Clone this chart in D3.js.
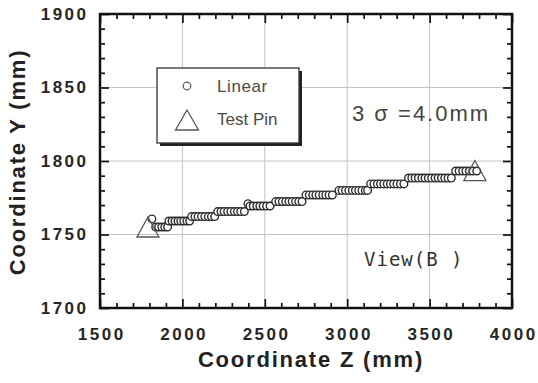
<!DOCTYPE html>
<html>
<head>
<meta charset="utf-8">
<script src="https://cdn.jsdelivr.net/npm/d3@7"></script>
<style>
  body { margin: 0; background: #fff; }
  text { font-family: Arial, "Liberation Sans", Helvetica, sans-serif; }
</style>
</head>
<body>
<svg id="chart" width="538" height="383"></svg>
<script>
// Coordinate Z vs Y, view (B): linear fit points and the two test pins

// linear points, grouped by the flat "steps" seen in the plot
var stepY = [1760.6, 1755.1, 1759.2, 1762.2, 1765.6, 1771.0, 1769.4, 1772.4, 1776.9, 1780.0, 1784.4, 1788.4, 1793.2];
var stepZ = [
    [1815],
    [1838, 1856, 1875, 1893, 1910],
    [1918, 1937, 1955, 1973, 1990, 2008, 2027, 2044],
    [2056, 2076, 2095, 2116, 2136, 2157, 2176, 2196],
    [2214, 2234, 2253, 2274, 2294, 2315, 2334, 2354, 2376],
    [2398],
    [2410, 2430, 2451, 2470, 2490, 2511, 2532],
    [2566, 2586, 2606, 2627, 2646, 2666, 2687, 2706, 2726],
    [2750, 2770, 2791, 2810, 2830, 2851, 2870, 2890, 2910],
    [2950, 2969, 2990, 3010, 3031, 3050, 3070, 3090, 3110, 3124],
    [3142, 3162, 3183, 3202, 3222, 3243, 3262, 3282, 3302, 3323, 3344],
    [3372, 3392, 3412, 3432, 3453, 3472, 3492, 3512, 3533, 3552, 3572, 3592, 3612, 3632],
    [3658, 3679, 3700, 3720, 3741, 3762, 3786]
];

// test pins
var pinZ = [1791, 3775];
var pinY = [1755.1, 1793.5];

var xMajor = [1500, 2000, 2500, 3000, 3500, 4000];
var xMinor = [1600, 1700, 1800, 1900, 2100, 2200, 2300, 2400, 2600, 2700, 2800, 2900,
              3100, 3200, 3300, 3400, 3600, 3700, 3800, 3900];
var yMajor = [1700, 1750, 1800, 1850, 1900];
var yMinor = [1710, 1720, 1730, 1740, 1760, 1770, 1780, 1790, 1810, 1820, 1830, 1840,
              1860, 1870, 1880, 1890];

var margin = {top: 14, right: 26, bottom: 75, left: 100},
    width = 538 - margin.left - margin.right,
    height = 383 - margin.top - margin.bottom;

var svg = d3.select("#chart");
svg.append("rect").attr("width", 538).attr("height", 383).attr("fill", "#fff");

var g = svg.append("g")
    .attr("transform", "translate(" + margin.left + "," + margin.top + ")");

var x = d3.scaleLinear().domain([1500, 4000]).range([0, width]);
var y = d3.scaleLinear().domain([1700, 1900]).range([height, 0]);

// grid
g.selectAll(".gx")
    .data(xMajor.slice(1, -1))
    .enter().append("line")
    .attr("x1", function(d) { return x(d); })
    .attr("x2", function(d) { return x(d); })
    .attr("y1", 0).attr("y2", height)
    .attr("stroke", "#c4c4c4").attr("stroke-width", 1);

g.selectAll(".gy")
    .data(yMajor.slice(1, -1))
    .enter().append("line")
    .attr("y1", function(d) { return y(d); })
    .attr("y2", function(d) { return y(d); })
    .attr("x1", 0).attr("x2", width)
    .attr("stroke", "#c4c4c4").attr("stroke-width", 1);

// ticks, all pointing inward
function tickAxis(axis, tr) {
    var a = g.append("g").attr("transform", tr).call(axis);
    a.select(".domain").remove();
    a.selectAll(".tick line").attr("stroke", "#111").attr("stroke-width", 1.7);
    return a;
}

tickAxis(d3.axisBottom(x).tickValues(xMinor).tickSize(-5).tickFormat(""), "translate(0," + height + ")");
tickAxis(d3.axisTop(x).tickValues(xMinor).tickSize(-5).tickFormat(""), "translate(0,0)");
tickAxis(d3.axisTop(x).tickValues(xMajor).tickSize(-9).tickFormat(""), "translate(0,0)");
tickAxis(d3.axisLeft(y).tickValues(yMinor).tickSize(-5).tickFormat(""), "translate(0,0)");
tickAxis(d3.axisRight(y).tickValues(yMinor).tickSize(-5).tickFormat(""), "translate(" + width + ",0)");
tickAxis(d3.axisRight(y).tickValues(yMajor).tickSize(-9).tickFormat(""), "translate(" + width + ",0)");

var xAxis = tickAxis(d3.axisBottom(x).tickValues(xMajor).tickSize(-9).tickPadding(20).tickFormat(d3.format("d")),
    "translate(0," + height + ")");
var yAxis = tickAxis(d3.axisLeft(y).tickValues(yMajor).tickSize(-9).tickPadding(11.5).tickFormat(d3.format("d")),
    "translate(0,0)");

[xAxis, yAxis].forEach(function(a) {
    a.selectAll(".tick text")
        .attr("fill", "#262626")
        .style("font-family", "Arial, 'Liberation Sans', sans-serif")
        .style("font-size", "17px")
        .style("font-weight", "bold")
        .style("letter-spacing", "2.5px");
});
xAxis.selectAll(".tick text").attr("dx", "1.25");

// frame
g.append("rect")
    .attr("width", width).attr("height", height)
    .attr("fill", "none").attr("stroke", "#111").attr("stroke-width", 2.5);

// linear points
var points = [];
stepZ.forEach(function(zs, i) {
    zs.forEach(function(z) { points.push({z: z, y: stepY[i]}); });
});

g.selectAll(".pt")
    .data(points)
    .enter().append("circle")
    .attr("cx", function(d) { return x(d.z); })
    .attr("cy", function(d) { return y(d.y); })
    .attr("r", 3.8)
    .attr("fill", "#fff")
    .attr("stroke", "#2e2e2e")
    .attr("stroke-width", 1.4);

// test pins
function triPath(w, h) {
    return "M0," + (-h / 2) + "L" + (w / 2) + "," + (h / 2) + "L" + (-w / 2) + "," + (h / 2) + "Z";
}

g.selectAll(".pin")
    .data(pinZ)
    .enter().append("path")
    .attr("transform", function(d, i) { return "translate(" + x(d) + "," + y(pinY[i]) + ")"; })
    .attr("d", triPath(22, 20))
    .attr("fill", "none")
    .attr("stroke", "#555")
    .attr("stroke-width", 1.3);

// legend
var leg = svg.append("g").attr("transform", "translate(157,68)");
leg.append("rect").attr("x", 3).attr("y", 3).attr("width", 142).attr("height", 75).attr("fill", "#222");
leg.append("rect").attr("width", 142).attr("height", 75)
    .attr("fill", "#fff").attr("stroke", "#333").attr("stroke-width", 1.3);
leg.append("circle").attr("cx", 30).attr("cy", 18).attr("r", 3.8)
    .attr("fill", "#fff").attr("stroke", "#555").attr("stroke-width", 1.2);
leg.append("path").attr("transform", "translate(30,52)").attr("d", triPath(23, 20))
    .attr("fill", "none").attr("stroke", "#555").attr("stroke-width", 1.3);
leg.append("text").attr("x", 60).attr("y", 24).text("Linear")
    .attr("fill", "#4a4a4a").style("font-size", "17px").style("letter-spacing", "0.6px");
leg.append("text").attr("x", 60).attr("y", 57).text("Test Pin")
    .attr("fill", "#4a4a4a").style("font-size", "17px");

// annotations
svg.append("text").attr("x", 352).attr("y", 121).text("3 \u03c3 =4.0mm")
    .attr("fill", "#444").style("font-size", "22px").style("letter-spacing", "2px");
svg.append("text").attr("x", 364).attr("y", 266).text("View(B )")
    .attr("fill", "#333").style("font-family", "'DejaVu Sans Mono', monospace")
    .style("font-size", "19px").style("letter-spacing", "1px");

// axis titles
svg.append("text").attr("x", 311).attr("y", 367).attr("text-anchor", "middle")
    .text("Coordinate Z (mm)")
    .attr("fill", "#222").style("font-size", "22px").style("font-weight", "bold")
    .style("letter-spacing", "1.8px");
svg.append("text").attr("transform", "translate(25,162) rotate(-90)").attr("text-anchor", "middle")
    .text("Coordinate Y (mm)")
    .attr("fill", "#222").style("font-size", "22px").style("font-weight", "bold")
    .style("letter-spacing", "1.8px");
</script>
</body>
</html>
